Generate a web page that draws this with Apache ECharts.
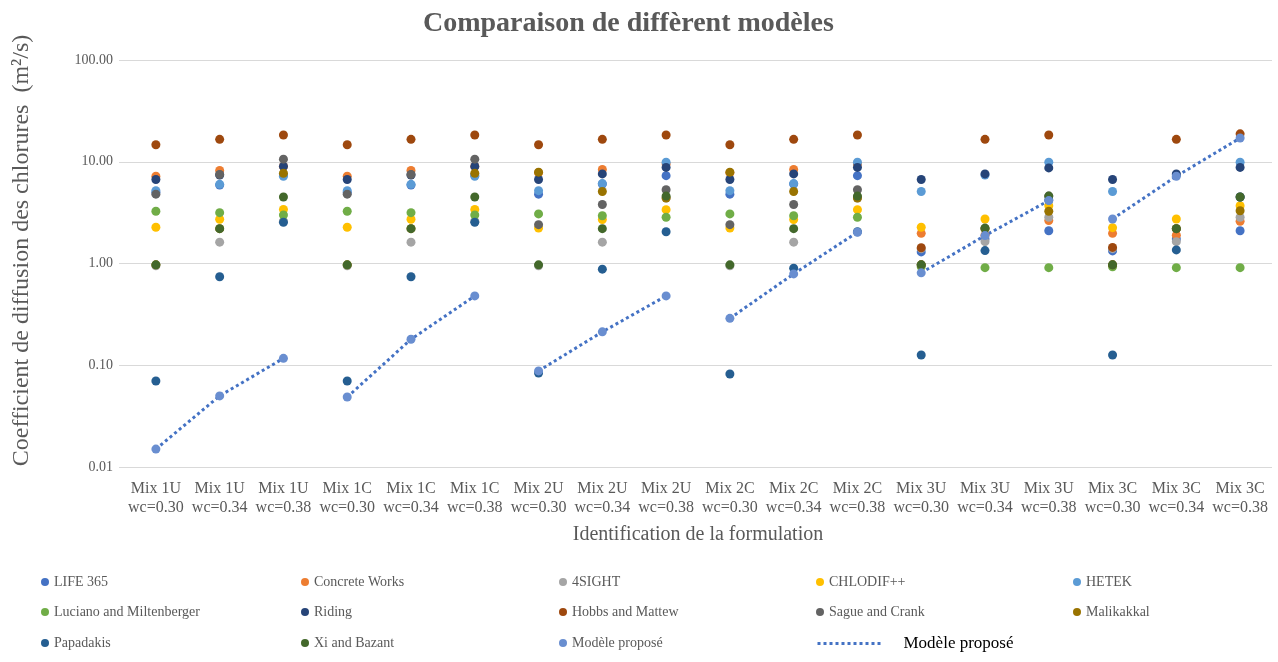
<!DOCTYPE html>
<html><head><meta charset="utf-8">
<script src="https://cdn.jsdelivr.net/npm/echarts@6/dist/echarts.min.js"></script>
<style>html,body{margin:0;padding:0;background:#fff}#c{width:1278px;height:662px}</style>
</head><body><div id="c"></div>
<script>
const categories = ['Mix 1U\nwc=0.30','Mix 1U\nwc=0.34','Mix 1U\nwc=0.38','Mix 1C\nwc=0.30','Mix 1C\nwc=0.34','Mix 1C\nwc=0.38',
  'Mix 2U\nwc=0.30','Mix 2U\nwc=0.34','Mix 2U\nwc=0.38','Mix 2C\nwc=0.30','Mix 2C\nwc=0.34','Mix 2C\nwc=0.38',
  'Mix 3U\nwc=0.30','Mix 3U\nwc=0.34','Mix 3U\nwc=0.38','Mix 3C\nwc=0.30','Mix 3C\nwc=0.34','Mix 3C\nwc=0.38'];
const yTicks = [0.01, 0.1, 1, 10, 100];

const life365    = [5.0,5.9,7.4,5.0,5.9,7.4,4.8,6.05,7.3,4.8,6.05,7.3,1.3,1.74,2.1,1.33,1.74,2.1];
const concrete   = [7.2,8.2,9.0,7.2,8.2,9.0,7.8,8.4,9.5,7.8,8.4,9.5,1.98,1.9,2.64,1.98,1.9,2.6];
const sight4     = [0.95,1.62,2.6,0.95,1.62,2.6,0.95,1.62,4.4,0.95,1.62,4.4,1.4,1.64,2.85,1.4,1.64,2.85];
const chlodif    = [2.27,2.72,3.4,2.27,2.72,3.4,2.23,2.7,3.38,2.23,2.7,3.38,2.27,2.74,3.7,2.25,2.74,3.7];
const hetek      = [5.2,6.0,7.2,5.2,6.0,7.2,5.2,6.1,9.9,5.2,6.1,9.9,5.1,7.4,9.9,5.1,7.4,9.9];
const luciano    = [3.26,3.16,3.0,3.26,3.16,3.0,3.07,2.95,2.85,3.07,2.95,2.85,0.93,0.91,0.91,0.93,0.91,0.91];
const riding     = [6.7,7.4,9.0,6.7,7.4,9.0,6.7,7.6,8.8,6.7,7.6,8.8,6.7,7.6,8.7,6.7,7.6,8.8];
const hobbs      = [14.7,16.6,18.3,14.7,16.6,18.3,14.7,16.6,18.3,14.7,16.6,18.3,1.43,16.6,18.3,1.44,16.6,18.8];
const sague      = [4.8,7.5,10.6,4.8,7.5,10.6,2.41,3.8,5.3,2.41,3.8,5.3,0.97,2.2,4.6,0.97,2.2,4.5];
const malikakkal = [0.97,2.2,7.7,0.97,2.2,7.7,7.9,5.1,4.4,7.9,5.1,4.4,0.97,2.2,3.26,0.97,2.2,3.3];
const papadakis  = [0.07,0.74,2.54,0.07,0.74,2.54,0.084,0.88,2.05,0.082,0.9,2.05,0.126,1.34,4.2,0.126,1.36,4.5];
const xiBazant   = [0.97,2.2,4.5,0.97,2.2,4.5,0.97,2.2,4.6,0.97,2.2,4.6,0.97,2.23,4.6,0.97,2.2,4.5];
const modele     = [0.015,0.050,0.117,0.0487,0.18,0.48,0.088,0.213,0.48,0.289,0.79,2.03,0.81,1.88,4.15,2.74,7.2,17.1];

const seriesDefs = [
  ['LIFE 365', life365, '#4472C4'],
  ['Concrete Works', concrete, '#ED7D31'],
  ['4SIGHT', sight4, '#A5A5A5'],
  ['CHLODIF++', chlodif, '#FFC000'],
  ['HETEK', hetek, '#5B9BD5'],
  ['Luciano and Miltenberger', luciano, '#70AD47'],
  ['Riding', riding, '#264478'],
  ['Hobbs and Mattew', hobbs, '#9E480E'],
  ['Sague and Crank', sague, '#636363'],
  ['Malikakkal', malikakkal, '#997300'],
  ['Papadakis', papadakis, '#255E91'],
  ['Xi and Bazant', xiBazant, '#43682B'],
  ['Modèle proposé', modele, '#698ED0']
];
const lineName = 'Modèle proposé ';
const FONT = '"Liberation Serif","DejaVu Serif",serif';
const TXT = '#595959';

const series = [];
for (let g = 0; g < 6; g++) {
  series.push({
    type: 'line', name: lineName, z: 1,
    data: modele.map((v, i) => (Math.floor(i / 3) === g ? v : '-')),
    symbol: 'none', showSymbol: false, connectNulls: false,
    lineStyle: { color: '#4472C4', width: 3, type: [3, 3] },
    itemStyle: { color: '#4472C4' }
  });
}
seriesDefs.forEach(([name, data, color]) => {
  series.push({
    type: 'scatter', name, data, z: 3,
    symbol: 'circle', symbolSize: 9,
    itemStyle: { color, opacity: 1 }
  });
});

const colLeft = [41, 301, 559, 816, 1073];
const rowTop = [575, 605, 636];
const legendLayout = [
  ['LIFE 365', 0, 0], ['Concrete Works', 1, 0], ['4SIGHT', 2, 0], ['CHLODIF++', 3, 0], ['HETEK', 4, 0],
  ['Luciano and Miltenberger', 0, 1], ['Riding', 1, 1], ['Hobbs and Mattew', 2, 1], ['Sague and Crank', 3, 1], ['Malikakkal', 4, 1],
  ['Papadakis', 0, 2], ['Xi and Bazant', 1, 2], ['Modèle proposé', 2, 2]
];
const legends = legendLayout.map(([name, c, r]) => ({
  data: [{ name, icon: 'circle' }], left: colLeft[c], top: rowTop[r],
  itemWidth: 8, itemHeight: 8, padding: 0,
  itemStyle: { opacity: 1 },
  textStyle: { fontFamily: FONT, fontSize: 14, color: TXT }
}));
legends.push({
  data: [{ name: lineName }], left: 816, top: rowTop[2] - 1,
  itemWidth: 63, itemHeight: 12, padding: 0,
  itemStyle: { opacity: 0 },
  lineStyle: { color: '#4472C4', width: 3, type: [3, 3] },
  textStyle: { fontFamily: FONT, fontSize: 17, color: '#000', padding: [0, 0, 0, 18] }
});

const chart = echarts.init(document.getElementById('c'), null, { renderer: 'canvas' });
chart.setOption({
  animation: false,
  title: { text: 'Comparaison de diffèrent modèles', left: 418, top: 5,
    textStyle: { fontFamily: FONT, fontSize: 28, fontWeight: 'bold', color: TXT } },
  legend: legends,
  grid: { left: 124, right: 6, top: 60, bottom: 195 },
  xAxis: {
    type: 'category', data: categories,
    name: 'Identification de la formulation', nameLocation: 'middle', nameGap: 58,
    nameTextStyle: { fontFamily: FONT, fontSize: 20, color: TXT },
    axisLine: { show: false }, axisTick: { show: false },
    axisLabel: { fontFamily: FONT, fontSize: 16, color: TXT, lineHeight: 19, margin: 12, interval: 0 }
  },
  yAxis: {
    type: 'log', logBase: 10, min: 0.01, max: 100,
    name: 'Coefficient de diffusion des chlorures  (m²/s)', nameLocation: 'middle', nameGap: 90, nameRotate: 90,
    nameTextStyle: { fontFamily: FONT, fontSize: 24, color: TXT, padding: [0, 0, 0, 26] },
    axisLine: { show: false },
    axisTick: { show: true, length: 5, lineStyle: { color: '#d9d9d9' } },
    splitLine: { show: true, lineStyle: { color: '#d9d9d9', width: 1 } },
    axisLabel: { fontFamily: FONT, fontSize: 14, color: TXT, margin: 11,
      formatter: v => yTicks.some(t => Math.abs(t - v) / t < 1e-6) ? Number(v).toFixed(2) : '' }
  },
  series
});
</script></body></html>
